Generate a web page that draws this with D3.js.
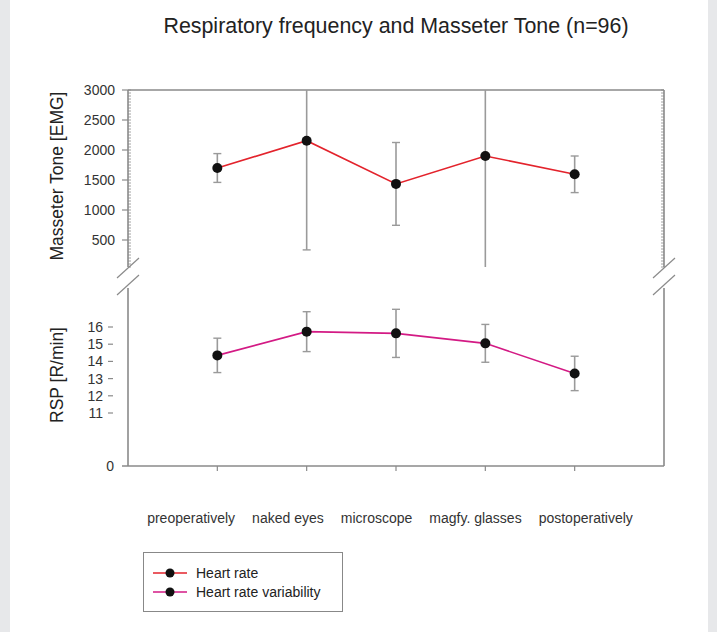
<!DOCTYPE html>
<html>
<head>
<meta charset="utf-8">
<script src="https://cdn.jsdelivr.net/npm/d3@7"></script>
<style>
  html, body { margin: 0; padding: 0; background: #fff; }
  svg { display: block; font-family: "Liberation Sans", Arial, sans-serif; }
</style>
</head>
<body>
<svg id="chart" width="717" height="632"></svg>
<script>
const categories = ["preoperatively", "naked eyes", "microscope", "magfy. glasses", "postoperatively"];
const masseterMean = [1700, 2155, 1435, 1900, 1595];
const masseterErr  = [240, 1820, 690, 1850, 305];
const rspMean = [14.35, 15.73, 15.63, 15.05, 13.3];
const rspErr  = [1.0, 1.16, 1.4, 1.1, 1.0];
const topTicks = [500, 1000, 1500, 2000, 2500, 3000];
const botTicks = [11, 12, 13, 14, 15, 16];
const seriesNames = ["Heart rate", "Heart rate variability"];
const title = "Respiratory frequency and Masseter Tone (n=96)";
const topLabel = "Masseter Tone [EMG]";
const botLabel = "RSP [R/min]";

const svg = d3.select("#chart");
const W = 717, H = 632;
const axisCol = "#8a8a8a", textCol = "#333", errCol = "#9a9a9a";
const red = "#e3232c", magenta = "#d31a84";

// frame background
svg.append("rect").attr("x", 0).attr("y", 0).attr("width", W).attr("height", H).attr("fill", "#e7e8ea");
svg.append("rect").attr("x", 10).attr("y", 0).attr("width", 698).attr("height", H).attr("fill", "#fff");

const x = d3.scalePoint().domain(categories).range([128, 664]).padding(1);
const yTop = d3.scaleLinear().domain([50, 3000]).range([267, 90]);
const yBot = d3.scaleLinear().domain([0, 11, 16, 18.27]).range([466, 413, 327, 288]);

// title
svg.append("text").attr("x", 396).attr("y", 33).attr("text-anchor", "middle")
  .attr("font-size", 21.4).attr("fill", "#222").text(title);

// ---- top panel axes ----
const gTop = svg.append("g");
gTop.append("line").attr("x1", 128).attr("x2", 664).attr("y1", 90).attr("y2", 90).attr("stroke", axisCol).attr("stroke-width", 1.6);
gTop.append("line").attr("x1", 128).attr("x2", 128).attr("y1", 90).attr("y2", 267).attr("stroke", axisCol).attr("stroke-width", 1.6);
gTop.append("line").attr("x1", 664).attr("x2", 664).attr("y1", 90).attr("y2", 267).attr("stroke", axisCol).attr("stroke-width", 1.6);
const minor = d3.range(50, 3001, 50);
gTop.selectAll("line.minL").data(minor).join("line")
  .attr("x1", 128).attr("x2", 131).attr("y1", d => yTop(d)).attr("y2", d => yTop(d))
  .attr("stroke", axisCol).attr("stroke-width", 0.8);
gTop.selectAll("line.minR").data(minor).join("line")
  .attr("x1", 661).attr("x2", 664).attr("y1", d => yTop(d)).attr("y2", d => yTop(d))
  .attr("stroke", axisCol).attr("stroke-width", 0.8);
gTop.selectAll("line.maj").data(topTicks).join("line")
  .attr("x1", 122).attr("x2", 128).attr("y1", d => yTop(d)).attr("y2", d => yTop(d))
  .attr("stroke", axisCol).attr("stroke-width", 1.2);
gTop.selectAll("text.tl").data(topTicks).join("text")
  .attr("x", 115).attr("y", d => yTop(d) + 5).attr("text-anchor", "end")
  .attr("font-size", 14).attr("fill", textCol).text(d => d);

// ---- bottom panel axes ----
const gBot = svg.append("g");
gBot.append("line").attr("x1", 128).attr("x2", 128).attr("y1", 288).attr("y2", 466).attr("stroke", axisCol).attr("stroke-width", 1.6);
gBot.append("line").attr("x1", 664).attr("x2", 664).attr("y1", 288).attr("y2", 466).attr("stroke", axisCol).attr("stroke-width", 1.6);
gBot.append("line").attr("x1", 122).attr("x2", 664).attr("y1", 466).attr("y2", 466).attr("stroke", axisCol).attr("stroke-width", 1.6);
gBot.selectAll("line.bt").data(botTicks).join("line")
  .attr("x1", 108).attr("x2", 113).attr("y1", d => yBot(d)).attr("y2", d => yBot(d))
  .attr("stroke", axisCol).attr("stroke-width", 1.2);
gBot.selectAll("text.bl").data(botTicks).join("text")
  .attr("x", 103).attr("y", d => yBot(d) + 5).attr("text-anchor", "end")
  .attr("font-size", 14).attr("fill", textCol).text(d => d);
gBot.append("text").attr("x", 114).attr("y", yBot(0) + 5).attr("text-anchor", "end")
  .attr("font-size", 14).attr("fill", textCol).text(0);
gBot.selectAll("line.xt").data(categories).join("line")
  .attr("x1", d => x(d)).attr("x2", d => x(d)).attr("y1", 466).attr("y2", 471)
  .attr("stroke", axisCol).attr("stroke-width", 1.2);

// break marks
[128, 664].forEach(cx => {
  [268, 285].forEach(cy => {
    svg.append("line").attr("x1", cx - 11).attr("y1", cy + 10).attr("x2", cx + 11).attr("y2", cy - 10)
      .attr("stroke", axisCol).attr("stroke-width", 1.2);
  });
});

// axis titles
svg.append("text").attr("transform", "translate(63,176) rotate(-90)").attr("text-anchor", "middle")
  .attr("font-size", 17.5).attr("fill", "#222").text(topLabel);
svg.append("text").attr("transform", "translate(63,375) rotate(-90)").attr("text-anchor", "middle")
  .attr("font-size", 17.5).attr("fill", "#222").text(botLabel);

// x labels: laid out sequentially like the original
const xl = svg.append("g");
const labels = xl.selectAll("text").data(categories).join("text")
  .attr("y", 523).attr("font-size", 14).attr("fill", textCol).text(d => d);
const widths = labels.nodes().map(n => n.getComputedTextLength());
const gap = 17;
const total = d3.sum(widths) + gap * (widths.length - 1);
let cur = 390 - total / 2;
labels.each(function (d, i) { d3.select(this).attr("x", cur); cur += widths[i] + gap; });

// error bars helper
function errorBars(g, means, errs, y, dom) {
  const [lo, hi] = dom;
  categories.forEach((c, i) => {
    const top = Math.min(means[i] + errs[i], hi);
    const bot = Math.max(means[i] - errs[i], lo);
    const cx = x(c);
    g.append("line").attr("x1", cx).attr("x2", cx).attr("y1", y(top)).attr("y2", y(bot))
      .attr("stroke", errCol).attr("stroke-width", 1.6);
    if (means[i] + errs[i] < hi) g.append("line").attr("x1", cx - 4).attr("x2", cx + 4)
      .attr("y1", y(top)).attr("y2", y(top)).attr("stroke", errCol).attr("stroke-width", 1.4);
    if (means[i] - errs[i] > lo) g.append("line").attr("x1", cx - 4).attr("x2", cx + 4)
      .attr("y1", y(bot)).attr("y2", y(bot)).attr("stroke", errCol).attr("stroke-width", 1.4);
  });
}
const gE = svg.append("g");
errorBars(gE, masseterMean, masseterErr, yTop, [50, 3000]);
errorBars(gE, rspMean, rspErr, yBot, [0, 18.27]);

// lines
const lineTop = d3.line().x((d, i) => x(categories[i])).y(d => yTop(d));
const lineBot = d3.line().x((d, i) => x(categories[i])).y(d => yBot(d));
svg.append("path").attr("d", lineTop(masseterMean)).attr("fill", "none").attr("stroke", red).attr("stroke-width", 1.6);
svg.append("path").attr("d", lineBot(rspMean)).attr("fill", "none").attr("stroke", magenta).attr("stroke-width", 1.6);
svg.selectAll("circle.t").data(masseterMean).join("circle")
  .attr("cx", (d, i) => x(categories[i])).attr("cy", d => yTop(d)).attr("r", 5).attr("fill", "#111");
svg.selectAll("circle.b").data(rspMean).join("circle")
  .attr("cx", (d, i) => x(categories[i])).attr("cy", d => yBot(d)).attr("r", 5).attr("fill", "#111");

// legend
const lg = svg.append("g");
lg.append("rect").attr("x", 143.5).attr("y", 552.5).attr("width", 199).attr("height", 59)
  .attr("fill", "#fff").attr("stroke", "#888").attr("stroke-width", 1);
[red, magenta].forEach((col, i) => {
  const yy = 573 + i * 19;
  lg.append("line").attr("x1", 153).attr("x2", 187).attr("y1", yy).attr("y2", yy).attr("stroke", col).attr("stroke-width", 1.6);
  lg.append("circle").attr("cx", 170).attr("cy", yy).attr("r", 4.5).attr("fill", "#111");
  lg.append("text").attr("x", 196).attr("y", yy + 5).attr("font-size", 14).attr("fill", "#222").text(seriesNames[i]);
});
</script>
</body>
</html>
